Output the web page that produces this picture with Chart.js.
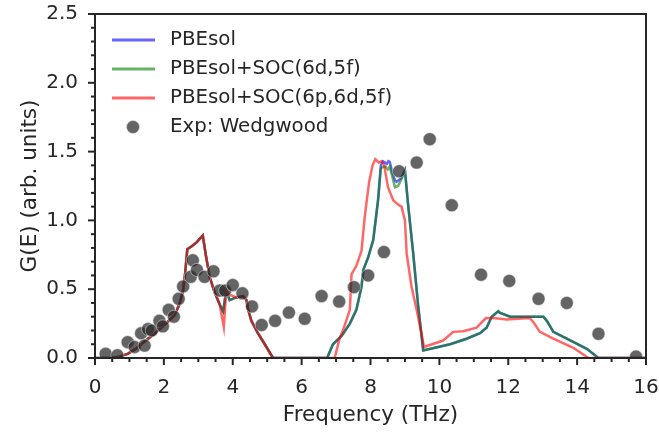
<!DOCTYPE html>
<html>
<head>
<meta charset="utf-8">
<script src="https://cdn.jsdelivr.net/npm/chart.js@4.4.0/dist/chart.umd.min.js"></script>
<style>
  html, body { margin: 0; padding: 0; background: #fff; }
  #wrap { width: 659px; height: 437px; }
</style>
</head>
<body>
<div id="wrap"><canvas id="dosChart" width="659" height="437"></canvas></div>
<script>
// PBEsol
const pbeFreq = [0, 0.45, 0.7, 0.95, 1.2, 1.44, 1.7, 1.92, 2.1, 2.31, 2.45, 2.55, 2.62, 2.68, 2.8, 2.95, 3.13, 3.23, 3.33, 3.47, 3.62, 3.72, 3.81, 3.91, 4.1, 4.3, 4.4, 4.44, 4.54, 4.73, 4.93, 5.12, 5.18,
  6.74, 6.91, 7.16, 7.4, 7.59, 7.74, 7.79, 7.93, 8.08, 8.22, 8.3, 8.36, 8.42, 8.47, 8.52, 8.56, 8.62, 8.71, 8.76, 8.9, 9.0, 9.09, 9.24, 9.38, 9.53,
  10.31, 10.79, 11.18, 11.37, 11.52, 11.71, 11.75, 12.05, 12.34, 13.02, 13.12, 13.31, 13.7, 14.28, 14.57, 14.62, 16];
const pbeDos = [0, 0, 0.01, 0.03, 0.07, 0.12, 0.17, 0.22, 0.26, 0.31, 0.39, 0.48, 0.62, 0.79, 0.81, 0.84, 0.89, 0.73, 0.59, 0.48, 0.39, 0.34, 0.49, 0.42, 0.44, 0.45, 0.42, 0.36, 0.27, 0.18, 0.1, 0.02, 0,
  0, 0.1, 0.16, 0.25, 0.35, 0.52, 0.64, 0.73, 0.86, 1.15, 1.4, 1.43, 1.42, 1.41, 1.43, 1.425, 1.36, 1.29, 1.28, 1.31, 1.365, 1.12, 0.76, 0.39, 0.055,
  0.1, 0.14, 0.18, 0.22, 0.3, 0.34, 0.33, 0.3, 0.3, 0.3, 0.27, 0.19, 0.14, 0.067, 0.01, 0, 0];

// PBEsol+SOC(6d,5f)
const socFreq = [0, 0.45, 0.7, 0.95, 1.2, 1.44, 1.7, 1.92, 2.1, 2.31, 2.45, 2.55, 2.62, 2.68, 2.8, 2.95, 3.13, 3.23, 3.33, 3.47, 3.62, 3.72, 3.81, 3.91, 4.1, 4.3, 4.4, 4.44, 4.54, 4.73, 4.93, 5.12, 5.18,
  6.74, 6.91, 7.16, 7.4, 7.59, 7.74, 7.79, 7.93, 8.08, 8.22, 8.3, 8.36, 8.44, 8.5, 8.56, 8.62, 8.71, 8.8, 8.9, 9.0, 9.09, 9.24, 9.38, 9.53,
  10.31, 10.79, 11.18, 11.37, 11.52, 11.71, 11.75, 12.05, 12.34, 13.02, 13.12, 13.31, 13.7, 14.28, 14.57, 14.62, 16];
const socDos = [0, 0, 0.01, 0.03, 0.07, 0.12, 0.17, 0.22, 0.26, 0.31, 0.39, 0.48, 0.62, 0.79, 0.81, 0.84, 0.89, 0.73, 0.59, 0.48, 0.39, 0.34, 0.49, 0.42, 0.44, 0.45, 0.42, 0.36, 0.27, 0.18, 0.1, 0.02, 0,
  0, 0.1, 0.16, 0.25, 0.35, 0.52, 0.64, 0.73, 0.855, 1.146, 1.377, 1.39, 1.39, 1.37, 1.39, 1.33, 1.24, 1.25, 1.3, 1.36, 1.12, 0.76, 0.39, 0.055,
  0.1, 0.14, 0.18, 0.22, 0.3, 0.34, 0.33, 0.3, 0.3, 0.3, 0.27, 0.19, 0.14, 0.067, 0.01, 0, 0];

// PBEsol+SOC(6p,6d,5f)
const soc2Freq = [0, 0.45, 0.7, 0.95, 1.2, 1.44, 1.7, 1.92, 2.1, 2.31, 2.45, 2.55, 2.62, 2.68, 2.8, 2.95, 3.13, 3.23, 3.33, 3.47, 3.62, 3.74, 3.81, 3.91, 4.1, 4.3, 4.4, 4.44, 4.54, 4.73, 4.93, 5.12, 5.18,
  6.96, 7.11, 7.2, 7.4, 7.45, 7.59, 7.74, 7.83, 7.96, 8.06, 8.14, 8.24, 8.32, 8.39, 8.51, 8.66, 8.8, 8.9, 9.0, 9.05, 9.19, 9.34, 9.48, 9.55,
  10.11, 10.4, 10.69, 11.08, 11.35, 11.57, 11.95, 12.63, 12.73, 12.92, 13.31, 13.89, 14.33, 16];
const soc2Dos = [0, 0, 0.01, 0.03, 0.07, 0.12, 0.17, 0.22, 0.26, 0.31, 0.39, 0.48, 0.62, 0.79, 0.81, 0.84, 0.89, 0.73, 0.59, 0.48, 0.39, 0.225, 0.49, 0.46, 0.44, 0.45, 0.42, 0.36, 0.27, 0.18, 0.1, 0.02, 0,
  0, 0.15, 0.2, 0.35, 0.61, 0.67, 0.78, 1.02, 1.28, 1.4, 1.445, 1.42, 1.43, 1.41, 1.24, 1.146, 1.115, 1.1, 1.0, 0.76, 0.52, 0.35, 0.18, 0.08,
  0.127, 0.19, 0.195, 0.22, 0.29, 0.29, 0.28, 0.29, 0.26, 0.19, 0.14, 0.074, 0, 0];

// Exp: Wedgwood
const expFreq = [0.31, 0.65, 0.95, 1.15, 1.34, 1.44, 1.54, 1.65, 1.87, 1.97, 2.14, 2.29, 2.43, 2.56, 2.78, 2.84, 2.96, 3.18, 3.44, 3.62, 3.78, 4.0, 4.28, 4.56, 4.84, 5.23, 5.63, 6.09, 6.58, 7.09, 7.52, 7.93, 8.39, 8.83, 9.34, 9.72, 10.36, 11.21, 12.03, 12.88, 13.7, 14.62, 15.71];
const expDos = [0.03, 0.02, 0.115, 0.08, 0.18, 0.09, 0.21, 0.2, 0.27, 0.23, 0.35, 0.3, 0.43, 0.52, 0.59, 0.71, 0.64, 0.59, 0.63, 0.49, 0.49, 0.53, 0.47, 0.375, 0.24, 0.27, 0.33, 0.285, 0.45, 0.41, 0.515, 0.6, 0.77, 1.357, 1.42, 1.59, 1.11, 0.605, 0.56, 0.43, 0.4, 0.176, 0.01];

const toPoints = (xs, ys) => xs.map((x, i) => ({ x: x, y: ys[i] }));

const ink = '#262626';
const font = 'DejaVu Sans';

// frame, outward ticks and legend drawn on top of the plot
const framePlugin = {
  id: 'frame',
  afterDraw(chart) {
    const { ctx, chartArea: a, scales } = chart;
    ctx.save();
    ctx.strokeStyle = ink;
    ctx.lineWidth = 2;
    ctx.strokeRect(a.left, a.top, a.right - a.left, a.bottom - a.top);

    // x ticks, minor every 0.5
    for (let v = 0; v <= 16.001; v += 0.5) {
      const px = scales.x.getPixelForValue(v);
      const len = Math.abs(v % 2) < 1e-6 ? 7 : 4;
      ctx.beginPath();
      ctx.moveTo(px, a.bottom);
      ctx.lineTo(px, a.bottom + len);
      ctx.stroke();
    }
    // y ticks, minor every 0.1
    for (let i = 0; i <= 25; i++) {
      const py = scales.y.getPixelForValue(i / 10);
      const len = i % 5 === 0 ? 7 : 4;
      ctx.beginPath();
      ctx.moveTo(a.left, py);
      ctx.lineTo(a.left - len, py);
      ctx.stroke();
    }

    // legend
    ctx.font = '19.8px "' + font + '"';
    ctx.textBaseline = 'middle';
    ctx.fillStyle = ink;
    chart.data.datasets.forEach((ds, i) => {
      const row = ds.legendRow;
      const y = a.top + 26 + row * 29;
      if (ds.showLine) {
        ctx.strokeStyle = ds.borderColor;
        ctx.lineWidth = 3;
        ctx.beginPath();
        ctx.moveTo(a.left + 17, y);
        ctx.lineTo(a.left + 60, y);
        ctx.stroke();
      } else {
        ctx.fillStyle = ds.backgroundColor;
        ctx.beginPath();
        ctx.arc(a.left + 38, y, 6.5, 0, Math.PI * 2);
        ctx.fill();
        ctx.strokeStyle = ds.borderColor;
        ctx.lineWidth = 1;
        ctx.stroke();
      }
      ctx.fillStyle = ink;
      ctx.fillText(ds.label, a.left + 75, y);
    });
    ctx.restore();
  }
};

const ctx = document.getElementById('dosChart').getContext('2d');
new Chart(ctx, {
  type: 'scatter',
  data: {
    datasets: [
      {
        label: 'Exp: Wedgwood',
        data: toPoints(expFreq, expDos),
        backgroundColor: 'rgba(40, 40, 40, 0.72)',
        borderColor: 'rgba(220, 220, 220, 0.55)',
        borderWidth: 1,
        pointRadius: 6.5,
        showLine: false,
        order: 0,
        legendRow: 3
      },
      {
        label: 'PBEsol+SOC(6p,6d,5f)',
        data: toPoints(soc2Freq, soc2Dos),
        borderColor: 'rgba(255, 0, 0, 0.6)',
        borderWidth: 2.5,
        pointRadius: 0,
        showLine: true,
        order: 1,
        legendRow: 2
      },
      {
        label: 'PBEsol+SOC(6d,5f)',
        data: toPoints(socFreq, socDos),
        borderColor: 'rgba(0, 128, 0, 0.6)',
        borderWidth: 2.5,
        pointRadius: 0,
        showLine: true,
        order: 2,
        legendRow: 1
      },
      {
        label: 'PBEsol',
        data: toPoints(pbeFreq, pbeDos),
        borderColor: 'rgba(0, 0, 255, 0.6)',
        borderWidth: 2.5,
        pointRadius: 0,
        showLine: true,
        order: 3,
        legendRow: 0
      }
    ]
  },
  options: {
    responsive: false,
    animation: false,
    layout: { padding: { top: 14, right: 0, left: 0, bottom: 0 } },
    plugins: {
      legend: { display: false },
      tooltip: { enabled: false }
    },
    scales: {
      x: {
        type: 'linear',
        min: 0,
        max: 16,
        grid: { display: false },
        border: { display: false },
        ticks: {
          stepSize: 2,
          padding: 10,
          color: ink,
          font: { family: font, size: 20 },
          maxRotation: 0
        },
        title: {
          display: true,
          text: 'Frequency (THz)',
          color: ink,
          font: { family: font, size: 21.5 },
          padding: { top: 0, bottom: 9 }
        },
        afterFit: scale => {
          scale.height = 79;
          scale.paddingLeft = 0;
          scale.paddingRight = 13;
        }
      },
      y: {
        type: 'linear',
        min: 0,
        max: 2.5,
        grid: { display: false },
        border: { display: false },
        ticks: {
          stepSize: 0.5,
          padding: 9,
          color: ink,
          font: { family: font, size: 20 },
          callback: v => v.toFixed(1)
        },
        title: {
          display: true,
          text: 'G(E) (arb. units)',
          color: ink,
          font: { family: font, size: 21.5 },
          padding: { top: 18, bottom: 0 }
        },
        afterFit: scale => {
          scale.width = 95;
          scale.paddingTop = 0;
          scale.paddingBottom = 0;
        }
      }
    }
  },
  plugins: [framePlugin]
});
</script>
</body>
</html>
